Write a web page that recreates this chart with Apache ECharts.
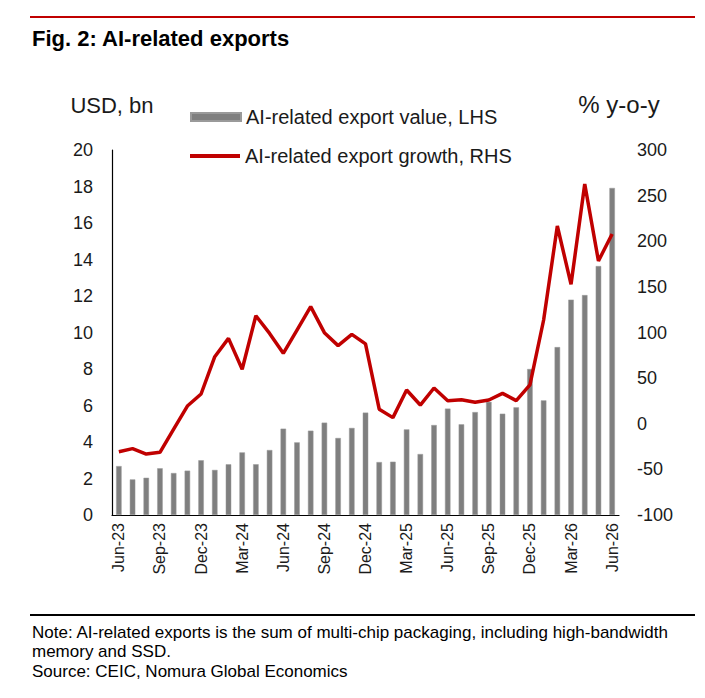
<!DOCTYPE html>
<html>
<head>
<meta charset="utf-8">
<script src="https://cdn.jsdelivr.net/npm/echarts@6/dist/echarts.min.js"></script>
<style>
  html, body { margin: 0; padding: 0; background: #fff; }
  #chart { width: 705px; height: 698px; }
</style>
</head>
<body>
<div id="chart"></div>
<script>
var months = ['Jun-23', 'Jul-23', 'Aug-23', 'Sep-23', 'Oct-23', 'Nov-23', 'Dec-23', 'Jan-24', 'Feb-24',
  'Mar-24', 'Apr-24', 'May-24', 'Jun-24', 'Jul-24', 'Aug-24', 'Sep-24', 'Oct-24', 'Nov-24', 'Dec-24',
  'Jan-25', 'Feb-25', 'Mar-25', 'Apr-25', 'May-25', 'Jun-25', 'Jul-25', 'Aug-25', 'Sep-25', 'Oct-25',
  'Nov-25', 'Dec-25', 'Jan-26', 'Feb-26', 'Mar-26', 'Apr-26', 'May-26', 'Jun-26'];

// USD bn, LHS
var exportValue = [2.68, 1.95, 2.04, 2.56, 2.30, 2.43, 3.0, 2.47, 2.78, 3.43, 2.78, 3.56, 4.73,
  3.98, 4.62, 5.06, 4.22, 4.77, 5.61, 2.90, 2.92, 4.69, 3.34, 4.93, 5.83, 4.97, 5.64, 6.2, 5.55,
  5.9, 8.0, 6.28, 9.2, 11.8, 12.05, 13.64, 17.92];

// % y-o-y, RHS
var exportGrowth = [-30.6, -27.3, -33.2, -31.3, -5.8, 19.4, 32.6, 73.5, 93.6, 59.7, 118.4, 99,
  77.2, 102.7, 128.3, 99.8, 85.6, 98, 87.5, 16, 6.7, 37, 20.5, 39.2, 25.3, 26.4, 23.5, 26, 33.3,
  25.3, 42.5, 113.7, 216.7, 152.8, 262.7, 178.4, 208];

var noteLines = [
  'Note: AI-related exports is the sum of multi-chip packaging, including high-bandwidth',
  'memory and SSD.',
  'Source: CEIC, Nomura Global Economics'
];

var red = '#c00000';
var grey = '#7f7f7f';
var ink = '#1a1a1a';
var font = '"Liberation Sans", Arial, sans-serif';

var chart = echarts.init(document.getElementById('chart'), null, { renderer: 'svg' });
chart.setOption({
  animation: false,
  textStyle: { fontFamily: font },
  grid: { left: 112, right: 86, top: 150, bottom: 183 },
  legend: [{
    left: 190,
    top: 107,
    padding: 0,
    itemWidth: 50,
    itemHeight: 8,
    icon: 'rect',
    textStyle: { fontSize: 20, color: ink, fontFamily: font },
    data: ['AI-related export value, LHS']
  }, {
    left: 190,
    top: 146,
    padding: 0,
    itemWidth: 50,
    itemHeight: 4,
    icon: 'rect',
    textStyle: { fontSize: 20, color: ink, fontFamily: font },
    data: ['AI-related export growth, RHS']
  }],
  xAxis: {
    type: 'category',
    data: months,
    boundaryGap: true,
    axisLine: { lineStyle: { color: '#000', width: 1.2 } },
    axisTick: { interval: 2, length: 6, lineStyle: { color: '#000' } },
    axisLabel: { interval: 2, rotate: 90, fontSize: 16, color: ink, margin: 8 }
  },
  yAxis: [{
    type: 'value',
    min: 0,
    max: 20,
    interval: 2,
    name: 'USD, bn',
    nameGap: 34,
    nameTextStyle: { fontSize: 22, color: ink },
    axisLine: { show: true, lineStyle: { color: '#000', width: 1.2 } },
    axisTick: { show: false },
    splitLine: { show: false },
    axisLabel: { fontSize: 18, color: ink, margin: 19 }
  }, {
    type: 'value',
    min: -100,
    max: 300,
    interval: 50,
    name: '% y-o-y',
    nameGap: 34,
    nameTextStyle: { fontSize: 24, color: ink },
    axisLine: { show: false },
    axisTick: { show: false },
    splitLine: { show: false },
    axisLabel: { fontSize: 18, color: ink, margin: 18 }
  }],
  series: [{
    name: 'AI-related export value, LHS',
    type: 'bar',
    data: exportValue,
    barWidth: 5.5,
    itemStyle: { color: grey, borderColor: '#9a9a9a', borderWidth: 0.5 }
  }, {
    name: 'AI-related export growth, RHS',
    type: 'line',
    yAxisIndex: 1,
    data: exportGrowth,
    symbol: 'none',
    lineStyle: { color: red, width: 3.5 },
    itemStyle: { color: red }
  }],
  graphic: [
    { type: 'rect', shape: { x: 30, y: 16, width: 665, height: 2 }, style: { fill: red } },
    { type: 'text', left: 32, top: 27, style: { text: 'Fig. 2: AI-related exports', font: 'bold 22px ' + font, fill: '#000' } },
    { type: 'rect', shape: { x: 30, y: 614, width: 665, height: 2 }, style: { fill: '#000' } },
    { type: 'text', left: 32, top: 624, style: { text: noteLines[0], font: '17px ' + font, fill: '#000' } },
    { type: 'text', left: 32, top: 643, style: { text: noteLines[1], font: '17px ' + font, fill: '#000' } },
    { type: 'text', left: 32, top: 663, style: { text: noteLines[2], font: '17px ' + font, fill: '#000' } }
  ]
});
window.addEventListener('resize', function() { chart.resize(); });
</script>
</body>
</html>
